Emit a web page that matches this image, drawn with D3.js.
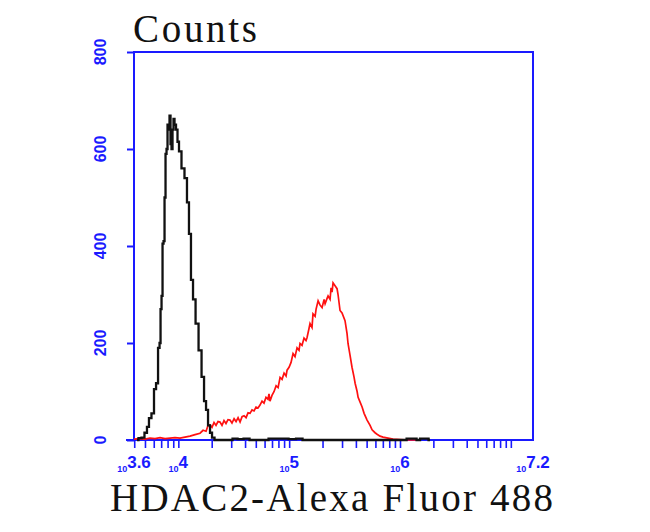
<!DOCTYPE html>
<html><head><meta charset="utf-8">
<script src="https://cdn.jsdelivr.net/npm/d3@7"></script>
<style>body{margin:0;background:#fff}svg{display:block}</style>
</head><body><svg id="c" width="650" height="532"></svg>
<script>
// x values are log10 of fluorescence intensity, y values are counts
const blackLog = [3.627,3.654,3.681,3.708,3.726,3.744,3.771,3.790,3.808,3.826,3.835,3.844,3.853,3.862,3.871,3.880,3.889,3.898,3.907,3.916,3.925,3.934,3.943,3.952,3.961,3.970,3.988,3.997,4.015,4.042,4.069,4.087,4.105,4.123,4.142,4.169,4.196,4.223,4.241,4.259,4.277,4.295,4.313,4.340,4.466,4.512,4.557,4.620,4.665,4.963,5.026,5.098,5.143,6.046,6.073,6.136,6.163,6.199,6.244,6.271];
const blackCounts = [0,4,5,15,27,45,55,105,117,190,200,270,297,405,410,500,590,600,650,640,669,610,600,640,662,650,640,615,595,560,540,490,425,330,290,240,185,130,80,62,30,15,5,0,0,3,2,3,0,3,2,3,0,0,3,3,0,3,3,0];
const redLog = [3.600,3.654,3.699,3.744,3.790,3.835,3.880,3.925,3.970,4.015,4.060,4.105,4.151,4.196,4.223,4.250,4.268,4.286,4.304,4.322,4.340,4.358,4.376,4.394,4.412,4.430,4.448,4.466,4.484,4.503,4.521,4.539,4.557,4.575,4.593,4.611,4.629,4.647,4.665,4.683,4.701,4.719,4.737,4.755,4.773,4.791,4.809,4.818,4.827,4.845,4.864,4.882,4.900,4.918,4.936,4.954,4.972,4.981,4.999,5.017,5.035,5.053,5.071,5.089,5.098,5.116,5.134,5.152,5.161,5.179,5.188,5.206,5.215,5.234,5.243,5.261,5.279,5.297,5.315,5.324,5.342,5.351,5.369,5.378,5.387,5.396,5.414,5.432,5.441,5.459,5.477,5.504,5.522,5.531,5.549,5.567,5.585,5.595,5.613,5.622,5.640,5.658,5.676,5.703,5.730,5.748,5.775,5.793,5.820,5.847,5.892,5.937,6.001,6.091,6.166];
const redCounts = [2,3,2,4,3,5,3,4,5,4,6,8,11,14,20,18,30,31,26,36,30,38,37,30,40,34,42,41,35,44,38,46,37,48,50,46,56,55,62,60,68,66,72,80,76,88,84,95,80,92,100,112,108,129,125,138,132,144,150,160,178,172,190,185,199,195,210,205,211,230,240,232,260,255,270,287,278,273,290,281,292,297,290,314,305,324,318,312,300,267,262,246,220,199,175,150,130,117,100,88,78,68,55,41,30,21,15,12,8,6,4,2,1,0,0];
const yTicks = [0,200,400,600,800];
const xMajorExp = ["3.6","4","5","6","7.2"];
const xTitle = "HDAC2-Alexa Fluor 488";
const yTitle = "Counts";

const svg = d3.select("#c");
const blue = "#1a1aff";
const x = d3.scaleLog().domain([Math.pow(10,3.6), Math.pow(10,7.2)]).range([134, 533]);
const y = d3.scaleLinear().domain([0, 800]).range([440, 52]);

// frame
svg.append("rect").attr("x",134).attr("y",52).attr("width",399).attr("height",388)
  .attr("fill","none").attr("stroke",blue).attr("stroke-width",2);

// minor + major x ticks
const xt = [];
for (let e = 3; e <= 7; e++) for (let m = 1; m <= 9; m++) {
  const v = m*Math.pow(10,e);
  if (v >= Math.pow(10,3.6) && v <= Math.pow(10,7.2)) xt.push(v);
}
const xAxis = d3.axisBottom(x).tickValues(xt).tickSize(8).tickFormat("");
const gx = svg.append("g").attr("transform","translate(0,440)").call(xAxis);
gx.select(".domain").attr("stroke",blue).attr("stroke-width",2).attr("d","M126,0H533");
gx.selectAll(".tick line").attr("stroke",blue).attr("stroke-width",1.6);

// x labels
xMajorExp.forEach(ex => {
  const t = svg.append("text").attr("x", x(Math.pow(10,+ex))).attr("y",468)
    .attr("text-anchor","middle").attr("fill",blue)
    .attr("font-family","Liberation Sans, Arial, sans-serif").attr("font-weight","bold");
  t.append("tspan").attr("font-size",9).attr("dy",4).text("10");
  t.append("tspan").attr("font-size",17).attr("dy",-4).text(ex);
});

// y axis
const yAxis = d3.axisLeft(y).tickValues(yTicks).tickSize(7).tickFormat("");
const gy = svg.append("g").attr("transform","translate(134,0)").call(yAxis);
gy.select(".domain").remove();
gy.selectAll(".tick line").attr("stroke",blue).attr("stroke-width",2);
yTicks.forEach(v => {
  svg.append("text").attr("transform",`translate(106,${y(v)}) rotate(-90)`)
    .attr("text-anchor","middle").attr("fill",blue)
    .attr("font-family","Liberation Sans, Arial, sans-serif").attr("font-weight","bold")
    .attr("font-size",16).text(v);
});

// curves
const redData = redLog.map((l,i)=>[Math.pow(10,l), redCounts[i]]);
const blackData = blackLog.map((l,i)=>[Math.pow(10,l), blackCounts[i]]);
const line = d3.line().x(d=>x(d[0])).y(d=>y(d[1]));
svg.append("path").attr("d", line(redData)).attr("fill","none").attr("stroke","#ff1010").attr("stroke-width",1.7);
svg.append("path").attr("d", line.curve(d3.curveStep)(blackData)).attr("fill","none").attr("stroke","#111").attr("stroke-width",2.3);

// titles
svg.append("text").attr("x",133).attr("y",42).attr("font-family","Liberation Serif, serif")
  .attr("font-size",39).attr("textLength",124).attr("lengthAdjust","spacing").attr("fill","#111").text(yTitle);
svg.append("text").attr("x",110).attr("y",511).attr("font-family","Liberation Serif, serif")
  .attr("font-size",39).attr("textLength",443).attr("lengthAdjust","spacing").attr("fill","#111").text(xTitle);
</script></body></html>
